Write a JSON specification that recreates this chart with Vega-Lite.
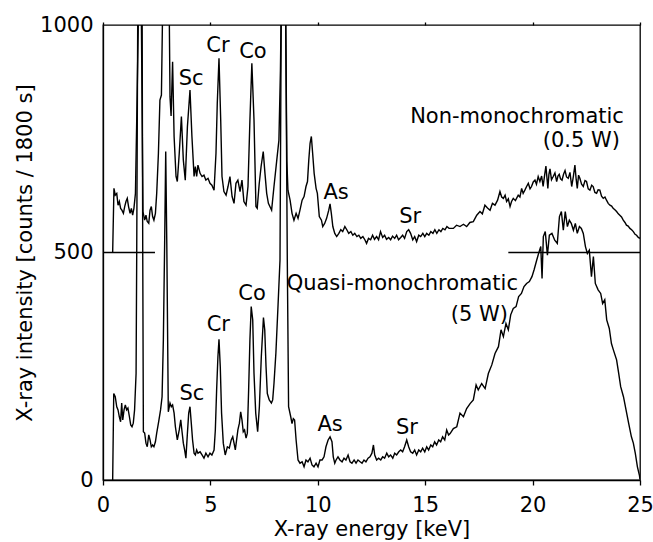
{
"$schema": "https://vega.github.io/schema/vega-lite/v6.json",
"width": 537, "height": 455,
"autosize": {"type": "none"},
"padding": {"left": 103, "top": 25, "right": 13, "bottom": 62},
"background": "white",
"config": {
 "font": "DejaVu Sans",
 "view": {"stroke": "black", "strokeWidth": 1.3},
 "axis": {"domainColor": "black", "tickColor": "black", "labelColor": "black", "titleColor": "black", "labelFont": "DejaVu Sans", "titleFont": "DejaVu Sans", "labelFontSize": 21, "titleFontSize": 21, "titleFontWeight": "normal", "grid": false, "domainWidth": 1.3, "tickWidth": 1.3, "labelFlush": false, "labelOverlap": false}
},
"datasets": {
 "upper": [
  {"x":0.45,"y":500},{"x":0.51,"y":641},{"x":0.57,"y":626},{"x":0.64,"y":630},{"x":0.70,"y":604},{"x":0.76,"y":612},{"x":0.82,"y":597},{"x":0.88,"y":593},{"x":0.95,"y":586},{"x":1.01,"y":601},{"x":1.07,"y":612},{"x":1.13,"y":619},{"x":1.19,"y":601},{"x":1.26,"y":586},{"x":1.32,"y":597},{"x":1.38,"y":582},{"x":1.44,"y":597},{"x":1.51,"y":630},{"x":1.57,"y":791},{"x":1.66,"y":1050},{"x":1.72,"y":1600},{"x":1.78,"y":1050},{"x":1.86,"y":590},{"x":1.94,"y":571},{"x":2.00,"y":582},{"x":2.06,"y":568},{"x":2.13,"y":564},{"x":2.19,"y":593},{"x":2.25,"y":601},{"x":2.31,"y":579},{"x":2.37,"y":571},{"x":2.44,"y":586},{"x":2.50,"y":630},{"x":2.58,"y":718},{"x":2.65,"y":835},{"x":2.72,"y":846},{"x":2.78,"y":1050},{"x":2.93,"y":1600},{"x":3.08,"y":1050},{"x":3.12,"y":842},{"x":3.17,"y":800},{"x":3.24,"y":919},{"x":3.31,"y":755},{"x":3.40,"y":667},{"x":3.46,"y":656},{"x":3.55,"y":718},{"x":3.65,"y":799},{"x":3.74,"y":703},{"x":3.83,"y":659},{"x":3.93,"y":777},{"x":4.05,"y":857},{"x":4.14,"y":755},{"x":4.24,"y":667},{"x":4.30,"y":689},{"x":4.36,"y":667},{"x":4.42,"y":692},{"x":4.52,"y":674},{"x":4.61,"y":667},{"x":4.70,"y":670},{"x":4.79,"y":659},{"x":4.89,"y":663},{"x":4.98,"y":652},{"x":5.07,"y":648},{"x":5.17,"y":637},{"x":5.26,"y":718},{"x":5.32,"y":828},{"x":5.40,"y":927},{"x":5.48,"y":791},{"x":5.54,"y":667},{"x":5.63,"y":634},{"x":5.73,"y":626},{"x":5.82,"y":645},{"x":5.91,"y":667},{"x":6.01,"y":623},{"x":6.10,"y":608},{"x":6.19,"y":652},{"x":6.28,"y":659},{"x":6.38,"y":634},{"x":6.47,"y":659},{"x":6.56,"y":612},{"x":6.66,"y":604},{"x":6.75,"y":645},{"x":6.84,"y":791},{"x":6.93,"y":916},{"x":7.03,"y":791},{"x":7.12,"y":601},{"x":7.18,"y":597},{"x":7.27,"y":650},{"x":7.36,"y":689},{"x":7.46,"y":722},{"x":7.54,"y":674},{"x":7.62,"y":630},{"x":7.70,"y":608},{"x":7.78,"y":600},{"x":7.85,"y":593},{"x":7.96,"y":645},{"x":8.09,"y":703},{"x":8.19,"y":747},{"x":8.26,"y":900},{"x":8.30,"y":1050},{"x":8.40,"y":1800},{"x":8.50,"y":1050},{"x":8.56,"y":700},{"x":8.61,"y":637},{"x":8.71,"y":615},{"x":8.80,"y":586},{"x":8.89,"y":571},{"x":8.99,"y":586},{"x":9.08,"y":575},{"x":9.17,"y":593},{"x":9.27,"y":615},{"x":9.36,"y":623},{"x":9.45,"y":645},{"x":9.52,"y":656},{"x":9.58,"y":703},{"x":9.64,"y":740},{"x":9.70,"y":755},{"x":9.76,"y":718},{"x":9.83,"y":674},{"x":9.92,"y":641},{"x":9.98,"y":630},{"x":10.07,"y":579},{"x":10.17,"y":571},{"x":10.23,"y":557},{"x":10.32,"y":564},{"x":10.41,"y":575},{"x":10.51,"y":593},{"x":10.57,"y":607},{"x":10.63,"y":586},{"x":10.70,"y":557},{"x":10.79,"y":542},{"x":10.88,"y":535},{"x":10.98,"y":542},{"x":11.07,"y":550},{"x":11.16,"y":546},{"x":11.26,"y":557},{"x":11.35,"y":550},{"x":11.44,"y":542},{"x":11.54,"y":546},{"x":11.63,"y":538},{"x":11.72,"y":542},{"x":11.82,"y":535},{"x":11.91,"y":538},{"x":12.00,"y":531},{"x":12.10,"y":535},{"x":12.19,"y":528},{"x":12.27,"y":520},{"x":12.36,"y":531},{"x":12.46,"y":528},{"x":12.55,"y":538},{"x":12.64,"y":529},{"x":12.74,"y":535},{"x":12.83,"y":528},{"x":12.92,"y":546},{"x":13.02,"y":533},{"x":13.11,"y":538},{"x":13.20,"y":529},{"x":13.30,"y":533},{"x":13.39,"y":528},{"x":13.48,"y":536},{"x":13.58,"y":531},{"x":13.67,"y":538},{"x":13.76,"y":528},{"x":13.86,"y":533},{"x":13.95,"y":538},{"x":14.04,"y":531},{"x":14.14,"y":546},{"x":14.23,"y":550},{"x":14.32,"y":542},{"x":14.42,"y":528},{"x":14.51,"y":535},{"x":14.60,"y":524},{"x":14.70,"y":538},{"x":14.79,"y":535},{"x":14.89,"y":542},{"x":14.98,"y":535},{"x":15.07,"y":542},{"x":15.17,"y":538},{"x":15.26,"y":546},{"x":15.36,"y":542},{"x":15.45,"y":550},{"x":15.54,"y":542},{"x":15.64,"y":550},{"x":15.73,"y":546},{"x":15.82,"y":553},{"x":15.92,"y":550},{"x":16.01,"y":557},{"x":16.11,"y":553},{"x":16.31,"y":553},{"x":16.46,"y":560},{"x":16.62,"y":557},{"x":16.78,"y":562},{"x":16.93,"y":557},{"x":17.08,"y":566},{"x":17.24,"y":568},{"x":17.40,"y":582},{"x":17.55,"y":590},{"x":17.66,"y":585},{"x":17.78,"y":604},{"x":17.90,"y":598},{"x":18.02,"y":593},{"x":18.13,"y":608},{"x":18.25,"y":604},{"x":18.37,"y":615},{"x":18.48,"y":634},{"x":18.56,"y":622},{"x":18.64,"y":619},{"x":18.72,"y":626},{"x":18.79,"y":612},{"x":18.87,"y":618},{"x":18.95,"y":601},{"x":19.02,"y":612},{"x":19.10,"y":619},{"x":19.20,"y":614},{"x":19.33,"y":626},{"x":19.41,"y":622},{"x":19.49,"y":641},{"x":19.56,"y":630},{"x":19.64,"y":637},{"x":19.72,"y":645},{"x":19.80,"y":652},{"x":19.88,"y":640},{"x":19.95,"y":645},{"x":20.03,"y":655},{"x":20.11,"y":659},{"x":20.18,"y":650},{"x":20.26,"y":667},{"x":20.34,"y":656},{"x":20.42,"y":668},{"x":20.49,"y":645},{"x":20.56,"y":670},{"x":20.62,"y":690},{"x":20.71,"y":641},{"x":20.76,"y":672},{"x":20.81,"y":684},{"x":20.88,"y":660},{"x":20.96,"y":667},{"x":21.04,"y":675},{"x":21.12,"y":656},{"x":21.18,"y":668},{"x":21.24,"y":672},{"x":21.30,"y":662},{"x":21.37,"y":659},{"x":21.44,"y":672},{"x":21.51,"y":680},{"x":21.58,"y":666},{"x":21.66,"y":663},{"x":21.74,"y":676},{"x":21.82,"y":645},{"x":21.90,"y":668},{"x":21.97,"y":692},{"x":22.03,"y":660},{"x":22.08,"y":641},{"x":22.14,"y":670},{"x":22.20,"y":663},{"x":22.28,"y":650},{"x":22.36,"y":645},{"x":22.44,"y":658},{"x":22.51,"y":656},{"x":22.59,"y":640},{"x":22.67,"y":637},{"x":22.75,"y":648},{"x":22.82,"y":645},{"x":22.90,"y":632},{"x":22.98,"y":630},{"x":23.05,"y":638},{"x":23.13,"y":637},{"x":23.21,"y":624},{"x":23.29,"y":619},{"x":23.37,"y":622},{"x":23.44,"y":615},{"x":23.52,"y":608},{"x":23.60,"y":604},{"x":23.68,"y":602},{"x":23.75,"y":597},{"x":23.83,"y":594},{"x":23.91,"y":590},{"x":23.99,"y":585},{"x":24.06,"y":582},{"x":24.14,"y":578},{"x":24.22,"y":571},{"x":24.30,"y":566},{"x":24.37,"y":560},{"x":24.45,"y":558},{"x":24.53,"y":553},{"x":24.61,"y":550},{"x":24.69,"y":546},{"x":24.77,"y":540},{"x":24.84,"y":538},{"x":24.92,"y":533},{"x":25.0,"y":531}
 ],
 "lower": [
  {"x":0.45,"y":0},{"x":0.50,"y":190},{"x":0.57,"y":183},{"x":0.64,"y":161},{"x":0.70,"y":154},{"x":0.76,"y":139},{"x":0.82,"y":128},{"x":0.87,"y":169},{"x":0.92,"y":132},{"x":0.98,"y":154},{"x":1.04,"y":165},{"x":1.10,"y":154},{"x":1.16,"y":158},{"x":1.23,"y":139},{"x":1.29,"y":121},{"x":1.35,"y":117},{"x":1.41,"y":125},{"x":1.47,"y":154},{"x":1.54,"y":234},{"x":1.57,"y":500},{"x":1.62,"y":1050},{"x":1.72,"y":2000},{"x":1.82,"y":1050},{"x":1.85,"y":500},{"x":1.88,"y":106},{"x":1.94,"y":103},{"x":2.00,"y":81},{"x":2.06,"y":73},{"x":2.13,"y":99},{"x":2.19,"y":88},{"x":2.25,"y":73},{"x":2.31,"y":77},{"x":2.37,"y":73},{"x":2.44,"y":84},{"x":2.50,"y":103},{"x":2.59,"y":128},{"x":2.68,"y":154},{"x":2.75,"y":183},{"x":2.81,"y":308},{"x":2.87,"y":520},{"x":2.92,"y":722},{"x":2.97,"y":520},{"x":3.04,"y":150},{"x":3.12,"y":169},{"x":3.18,"y":161},{"x":3.24,"y":165},{"x":3.31,"y":147},{"x":3.37,"y":117},{"x":3.46,"y":88},{"x":3.55,"y":110},{"x":3.62,"y":132},{"x":3.68,"y":106},{"x":3.74,"y":81},{"x":3.80,"y":66},{"x":3.86,"y":48},{"x":3.93,"y":103},{"x":3.99,"y":147},{"x":4.05,"y":161},{"x":4.11,"y":125},{"x":4.17,"y":88},{"x":4.24,"y":59},{"x":4.30,"y":55},{"x":4.36,"y":66},{"x":4.42,"y":59},{"x":4.52,"y":62},{"x":4.61,"y":55},{"x":4.70,"y":48},{"x":4.79,"y":59},{"x":4.89,"y":51},{"x":4.98,"y":59},{"x":5.07,"y":55},{"x":5.17,"y":66},{"x":5.23,"y":110},{"x":5.29,"y":198},{"x":5.35,"y":271},{"x":5.40,"y":309},{"x":5.46,"y":249},{"x":5.52,"y":147},{"x":5.60,"y":81},{"x":5.69,"y":55},{"x":5.79,"y":73},{"x":5.88,"y":70},{"x":5.97,"y":88},{"x":6.04,"y":95},{"x":6.10,"y":81},{"x":6.16,"y":66},{"x":6.22,"y":88},{"x":6.28,"y":110},{"x":6.35,"y":125},{"x":6.41,"y":150},{"x":6.47,"y":132},{"x":6.53,"y":106},{"x":6.59,"y":110},{"x":6.66,"y":92},{"x":6.72,"y":103},{"x":6.78,"y":198},{"x":6.84,"y":308},{"x":6.90,"y":381},{"x":6.97,"y":352},{"x":7.03,"y":234},{"x":7.11,"y":147},{"x":7.20,"y":106},{"x":7.28,"y":161},{"x":7.37,"y":271},{"x":7.47,"y":357},{"x":7.53,"y":330},{"x":7.59,"y":249},{"x":7.65,"y":190},{"x":7.74,"y":176},{"x":7.84,"y":169},{"x":7.90,"y":176},{"x":7.96,"y":212},{"x":8.05,"y":280},{"x":8.15,"y":385},{"x":8.24,"y":483},{"x":8.30,"y":1050},{"x":8.40,"y":2000},{"x":8.50,"y":1050},{"x":8.58,"y":483},{"x":8.64,"y":161},{"x":8.74,"y":139},{"x":8.80,"y":124},{"x":8.86,"y":135},{"x":8.92,"y":132},{"x":8.99,"y":88},{"x":9.08,"y":44},{"x":9.17,"y":37},{"x":9.27,"y":40},{"x":9.36,"y":29},{"x":9.45,"y":44},{"x":9.54,"y":40},{"x":9.64,"y":48},{"x":9.73,"y":33},{"x":9.82,"y":29},{"x":9.92,"y":37},{"x":10.01,"y":29},{"x":10.10,"y":44},{"x":10.20,"y":44},{"x":10.29,"y":51},{"x":10.38,"y":73},{"x":10.48,"y":88},{"x":10.57,"y":95},{"x":10.66,"y":84},{"x":10.72,"y":51},{"x":10.79,"y":37},{"x":10.85,"y":44},{"x":10.94,"y":51},{"x":11.03,"y":44},{"x":11.13,"y":40},{"x":11.22,"y":48},{"x":11.31,"y":44},{"x":11.41,"y":55},{"x":11.50,"y":40},{"x":11.59,"y":37},{"x":11.69,"y":44},{"x":11.78,"y":37},{"x":11.87,"y":44},{"x":11.97,"y":40},{"x":12.06,"y":37},{"x":12.15,"y":44},{"x":12.24,"y":40},{"x":12.34,"y":48},{"x":12.43,"y":51},{"x":12.52,"y":59},{"x":12.59,"y":77},{"x":12.65,"y":55},{"x":12.74,"y":44},{"x":12.83,"y":48},{"x":12.93,"y":44},{"x":13.02,"y":51},{"x":13.11,"y":48},{"x":13.21,"y":59},{"x":13.30,"y":51},{"x":13.39,"y":55},{"x":13.49,"y":48},{"x":13.58,"y":59},{"x":13.67,"y":55},{"x":13.77,"y":62},{"x":13.86,"y":66},{"x":13.95,"y":62},{"x":14.04,"y":73},{"x":14.14,"y":88},{"x":14.23,"y":73},{"x":14.32,"y":62},{"x":14.42,"y":59},{"x":14.51,"y":66},{"x":14.60,"y":55},{"x":14.70,"y":66},{"x":14.79,"y":62},{"x":14.88,"y":70},{"x":14.98,"y":62},{"x":15.07,"y":73},{"x":15.16,"y":66},{"x":15.26,"y":77},{"x":15.35,"y":73},{"x":15.44,"y":84},{"x":15.53,"y":77},{"x":15.63,"y":88},{"x":15.72,"y":84},{"x":15.81,"y":95},{"x":15.91,"y":88},{"x":16.00,"y":110},{"x":16.09,"y":99},{"x":16.16,"y":102},{"x":16.31,"y":113},{"x":16.47,"y":117},{"x":16.62,"y":147},{"x":16.78,"y":139},{"x":16.93,"y":157},{"x":17.09,"y":168},{"x":17.24,"y":176},{"x":17.37,"y":209},{"x":17.47,"y":198},{"x":17.63,"y":212},{"x":17.79,"y":201},{"x":17.94,"y":234},{"x":18.10,"y":253},{"x":18.25,"y":278},{"x":18.41,"y":293},{"x":18.53,"y":330},{"x":18.64,"y":315},{"x":18.76,"y":344},{"x":18.87,"y":330},{"x":18.98,"y":363},{"x":19.10,"y":377},{"x":19.23,"y":381},{"x":19.35,"y":403},{"x":19.48,"y":410},{"x":19.60,"y":425},{"x":19.72,"y":432},{"x":19.85,"y":436},{"x":19.97,"y":447},{"x":20.07,"y":462},{"x":20.19,"y":483},{"x":20.28,"y":498},{"x":20.38,"y":513},{"x":20.44,"y":443},{"x":20.50,"y":535},{"x":20.59,"y":546},{"x":20.69,"y":494},{"x":20.78,"y":538},{"x":20.90,"y":542},{"x":21.03,"y":527},{"x":21.15,"y":520},{"x":21.25,"y":579},{"x":21.34,"y":590},{"x":21.43,"y":549},{"x":21.52,"y":590},{"x":21.62,"y":557},{"x":21.71,"y":571},{"x":21.80,"y":564},{"x":21.90,"y":549},{"x":21.99,"y":564},{"x":22.08,"y":542},{"x":22.18,"y":557},{"x":22.27,"y":553},{"x":22.36,"y":542},{"x":22.46,"y":513},{"x":22.55,"y":498},{"x":22.64,"y":505},{"x":22.74,"y":447},{"x":22.83,"y":491},{"x":22.92,"y":432},{"x":23.05,"y":418},{"x":23.17,"y":410},{"x":23.26,"y":388},{"x":23.36,"y":396},{"x":23.45,"y":352},{"x":23.57,"y":333},{"x":23.67,"y":300},{"x":23.76,"y":286},{"x":23.91,"y":264},{"x":24.01,"y":234},{"x":24.10,"y":205},{"x":24.23,"y":183},{"x":24.35,"y":154},{"x":24.47,"y":125},{"x":24.60,"y":95},{"x":24.69,"y":81},{"x":24.78,"y":59},{"x":24.88,"y":29},{"x":24.97,"y":11},{"x":25.0,"y":2}
 ],
 "base": [{"x":0,"x2":2.42,"y":500},{"x":18.87,"x2":25,"y":500}],
 "peaks": [
  {"x":4.1,"y":881,"t":"Sc"},{"x":5.35,"y":954,"t":"Cr"},{"x":6.98,"y":941,"t":"Co"},{"x":10.85,"y":631,"t":"As"},{"x":14.3,"y":578,"t":"Sr"},
  {"x":4.14,"y":189,"t":"Sc"},{"x":5.37,"y":341,"t":"Cr"},{"x":6.94,"y":409,"t":"Co"},{"x":10.57,"y":121,"t":"As"},{"x":14.15,"y":114,"t":"Sr"}
 ],
 "notes": [
  {"x":24.25,"y":798,"t":"Non-monochromatic"},{"x":24.07,"y":745,"t":"(0.5 W)"},
  {"x":19.32,"y":431,"t":"Quasi-monochromatic"},{"x":18.85,"y":363,"t":"(5 W)"}
 ]
},
"resolve": {"axis": {"x": "independent"}},
"layer": [
 {
  "data": {"name": "upper"},
  "mark": {"type": "line", "color": "black", "strokeWidth": 1.4, "clip": true},
  "encoding": {
   "x": {"field": "x", "type": "quantitative", "scale": {"domain": [0, 25], "nice": false},
         "axis": {"orient": "bottom", "title": "X-ray energy [keV]", "values": [0, 5, 10, 15, 20, 25], "format": "d", "tickSize": 5, "labelPadding": 9, "titlePadding": 3}},
   "y": {"field": "y", "type": "quantitative", "scale": {"domain": [0, 1000], "nice": false},
         "axis": {"title": "X-ray intensity [counts / 1800 s]", "values": [0, 500, 1000], "format": "d", "ticks": false, "tickSize": 0, "labelPadding": 10, "titlePadding": 4}}
  }
 },
 {
  "data": {"name": "lower"},
  "mark": {"type": "line", "color": "black", "strokeWidth": 1.4, "clip": true},
  "encoding": {
   "x": {"field": "x", "type": "quantitative", "axis": null},
   "y": {"field": "y", "type": "quantitative"}
  }
 },
 {
  "data": {"name": "base"},
  "mark": {"type": "rule", "color": "black", "strokeWidth": 1.3},
  "encoding": {
   "x": {"field": "x", "type": "quantitative", "axis": {"orient": "top", "values": [0, 5, 10, 15, 20, 25], "labels": false, "title": null, "domain": false, "tickSize": 3}},
   "x2": {"field": "x2"},
   "y": {"field": "y", "type": "quantitative"}
  }
 },
 {
  "data": {"name": "peaks"},
  "mark": {"type": "text", "font": "DejaVu Sans", "fontSize": 21, "color": "black", "align": "center", "baseline": "middle"},
  "encoding": {
   "x": {"field": "x", "type": "quantitative", "axis": null},
   "y": {"field": "y", "type": "quantitative"},
   "text": {"field": "t"}
  }
 },
 {
  "data": {"name": "notes"},
  "mark": {"type": "text", "font": "DejaVu Sans", "fontSize": 21, "color": "black", "align": "right", "baseline": "middle"},
  "encoding": {
   "x": {"field": "x", "type": "quantitative", "axis": null},
   "y": {"field": "y", "type": "quantitative"},
   "text": {"field": "t"}
  }
 }
]
}
